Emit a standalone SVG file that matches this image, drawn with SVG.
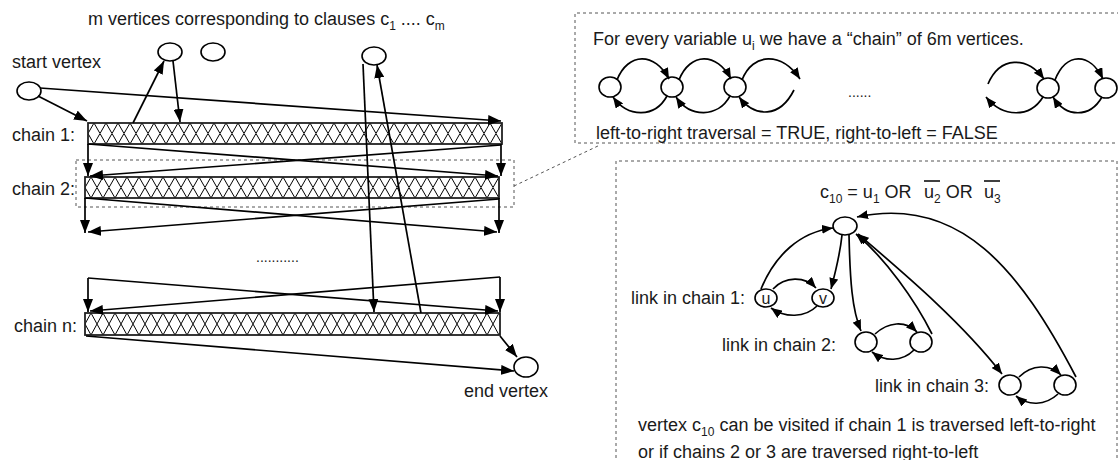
<svg xmlns="http://www.w3.org/2000/svg" width="1118" height="460" viewBox="0 0 1118 460">
<style>
text{font-family:"Liberation Sans",Arial,sans-serif;font-size:18px;fill:#1a1a1a}
.sub{font-size:12px}
.node{fill:#fff;stroke:#000;stroke-width:1.6}
.bar{stroke:#222;stroke-width:1.8}
.c{fill:none;stroke:#000;stroke-width:1.7}
.cb{marker-end:url(#ah)}
.cs{marker-end:url(#as)}
.dash{fill:none;stroke:#555;stroke-width:1;stroke-dasharray:3 3}
</style>
<defs>
<marker id="ah" markerUnits="userSpaceOnUse" markerWidth="14" markerHeight="10" refX="13" refY="5" orient="auto"><path d="M0,0 L13,5 L0,10 z" fill="#000"/></marker>
<marker id="as" markerUnits="userSpaceOnUse" markerWidth="12" markerHeight="9" refX="11" refY="4.5" orient="auto-start-reverse"><path d="M0,0 L11,4.5 L0,9 z" fill="#000"/></marker>
<pattern id="hatch" patternUnits="userSpaceOnUse" width="12" height="21"><rect width="12" height="21" fill="#fff"/><path d="M0,10.5 L6,0 L12,10.5 L6,21 Z" fill="none" stroke="#000" stroke-width="1"/></pattern>
<pattern id="hatch22" patternUnits="userSpaceOnUse" width="12" height="22"><rect width="12" height="22" fill="#fff"/><path d="M0,11 L6,0 L12,11 L6,22 Z" fill="none" stroke="#000" stroke-width="1"/></pattern>
</defs>
<rect width="1118" height="460" fill="#fff"/>

<g id="clause-caption"><text x="88" y="25">m vertices corresponding to clauses c<tspan class="sub" dy="5">1</tspan><tspan dy="-5"> .... c</tspan><tspan class="sub" dy="5">m</tspan></text></g>
<g id="clause-c1"><ellipse class="node" cx="170" cy="52" rx="12" ry="9"/></g>
<g id="clause-c2"><ellipse class="node" cx="213" cy="52" rx="12" ry="9"/></g>
<g id="clause-cm"><ellipse class="node" cx="374" cy="56" rx="12" ry="9"/></g>
<g id="start-vertex"><text x="12" y="68">start vertex</text><ellipse class="node" cx="29" cy="91" rx="12" ry="9"/></g>
<g id="chain-1"><text x="12" y="141">chain 1:</text><g transform="translate(88,123)"><rect class="bar" width="414" height="21" fill="url(#hatch)"/></g></g>
<g id="chain-2"><text x="12" y="195">chain 2:</text><g transform="translate(85,177)"><rect class="bar" width="414" height="21" fill="url(#hatch)"/></g></g>
<g id="chain-2-highlight"><rect class="dash" x="76" y="160" width="438" height="47"/></g>
<g id="ellipsis"><text x="256" y="262" style="font-size:14px">...........</text></g>
<g id="chain-n"><text x="14" y="332">chain n:</text><g transform="translate(85,313)"><rect class="bar" width="415" height="22" fill="url(#hatch22)"/></g></g>
<g id="end-vertex"><ellipse class="node" cx="526" cy="367" rx="12" ry="10"/><text x="464" y="397">end vertex</text></g>

<g id="chain-box">
<path class="dash" d="M1120,13 H575 V143 H1120"/>
<text x="593" y="45">For every variable u<tspan class="sub" dy="5">i</tspan><tspan dy="-5"> we have a “chain” of 6m vertices.</tspan></text>
<ellipse class="node" cx="610" cy="87" rx="11" ry="10"/>
<ellipse class="node" cx="672" cy="87" rx="11" ry="10"/>
<ellipse class="node" cx="735" cy="87" rx="11" ry="10"/>
<ellipse class="node" cx="1048" cy="88" rx="11" ry="10"/>
<ellipse class="node" cx="1106" cy="88" rx="11" ry="10"/>
<text x="848" y="97" style="font-size:14px">......</text>
<g class="c">
<path class="cs" d="M617,80 C628,52 655,52 669,79"/>
<path class="cs" d="M679,80 C690,52 717,52 731,79"/>
<path class="cs" d="M742,80 C753,52 782,52 800,79"/>
<path class="cs" d="M667,96 C655,118 628,118 613,97"/>
<path class="cs" d="M730,96 C718,118 690,118 676,97"/>
<path class="cs" d="M794,90 C780,118 755,118 739,97"/>
<path class="cs" d="M988,84 C1000,56 1027,56 1044,79"/>
<path class="cs" d="M1043,97 C1030,118 1003,118 986,97"/>
<path class="cs" d="M1055,80 C1066,52 1090,52 1103,79"/>
<path class="cs" d="M1102,97 C1090,118 1066,118 1053,97"/>
</g>
<text x="596" y="139">left-to-right traversal = TRUE, right-to-left = FALSE</text>
</g>
<path id="zoom-link" class="dash" d="M514,186 L600,145"/>

<g id="clause-box">
<path class="dash" d="M1117,470 V161 H616 V470"/>
<text x="820" y="198">c<tspan class="sub" dy="5">10</tspan><tspan dy="-5"> = u</tspan><tspan class="sub" dy="5">1</tspan><tspan dy="-5"> OR </tspan><tspan x="924">u</tspan><tspan class="sub" dy="5">2</tspan><tspan dy="-5"> OR </tspan><tspan x="984">u</tspan><tspan class="sub" dy="5">3</tspan></text>
<line x1="924" y1="181" x2="940" y2="181" stroke="#000" stroke-width="1.5"/>
<line x1="984" y1="181" x2="1000" y2="181" stroke="#000" stroke-width="1.5"/>
<text x="638" y="431">vertex c<tspan class="sub" dy="5">10</tspan><tspan dy="-5"> can be visited if chain 1 is traversed left-to-right</tspan></text>
<text x="638" y="458">or if chains 2 or 3 are traversed right-to-left</text>
</g>
<g id="c10"><ellipse class="node" cx="845" cy="226" rx="12" ry="9"/></g>
<g id="link1"><text x="631" y="304">link in chain 1:</text>
<ellipse class="node" cx="766" cy="298" rx="11" ry="9"/><text x="766" y="304" text-anchor="middle" style="font-size:16px">u</text>
<ellipse class="node" cx="823" cy="298" rx="11" ry="9"/><text x="823" y="304" text-anchor="middle" style="font-size:16px">v</text></g>
<g id="link2"><text x="722" y="351">link in chain 2:</text>
<ellipse class="node" cx="866" cy="342" rx="11" ry="10"/><ellipse class="node" cx="921" cy="342" rx="11" ry="10"/></g>
<g id="link3"><text x="875" y="392">link in chain 3:</text>
<ellipse class="node" cx="1010" cy="385" rx="11" ry="10"/><ellipse class="node" cx="1065" cy="385" rx="11" ry="10"/></g>

<g id="connectors" class="c">
<path class="cb" d="M38,96 L87,121"/>
<path class="cb" d="M40,88 L501,121"/>
<path class="cb" d="M133,123 L164,61"/>
<path class="cb" d="M173,61 L180,122"/>
<path class="cb" d="M363,64 L374,312"/>
<path class="cb" d="M421,313 L377,65"/>
<path class="cb" d="M88,144 L88,176"/>
<path class="cb" d="M88,144 L498,176"/>
<path class="cb" d="M501,144 L501,176"/>
<path class="cb" d="M501,145 L90,176"/>
<path class="cb" d="M85,198 L85,233"/>
<path class="cb" d="M85,198 L497,232"/>
<path class="cb" d="M499,198 L499,233"/>
<path class="cb" d="M499,199 L88,232"/>
<path class="cb" d="M88,278 L88,312"/>
<path class="cb" d="M88,278 L498,311"/>
<path class="cb" d="M500,277 L500,312"/>
<path class="cb" d="M500,277 L90,311"/>
<path class="cb" d="M86,336 L514,371"/>
<path class="cb" d="M500,336 L517,357"/>
<path class="cs" d="M761,289 C775,255 800,232 833,228"/>
<path class="cs" d="M842,235 C840,255 836,270 831,289"/>
<path class="cs" d="M773,289 C785,276 805,276 816,288"/>
<path class="cs" d="M817,306 C805,318 785,318 771,308"/>
<path class="cs" d="M849,235 C850,280 852,310 861,331"/>
<path class="cs" d="M875,334 C888,322 905,320 917,332"/>
<path class="cs" d="M914,350 C902,362 885,362 872,352"/>
<path class="cs" d="M932,334 C915,300 885,258 856,234"/>
<path class="cs" d="M858,234 C900,270 960,320 1002,374" marker-start="url(#as)"/>
<path class="cs" d="M1019,377 C1032,364 1050,364 1061,375"/>
<path class="cs" d="M1058,394 C1045,406 1028,406 1016,396"/>
<path class="cs" d="M1076,377 C1020,270 960,195 857,217"/>
</g>
</svg>
